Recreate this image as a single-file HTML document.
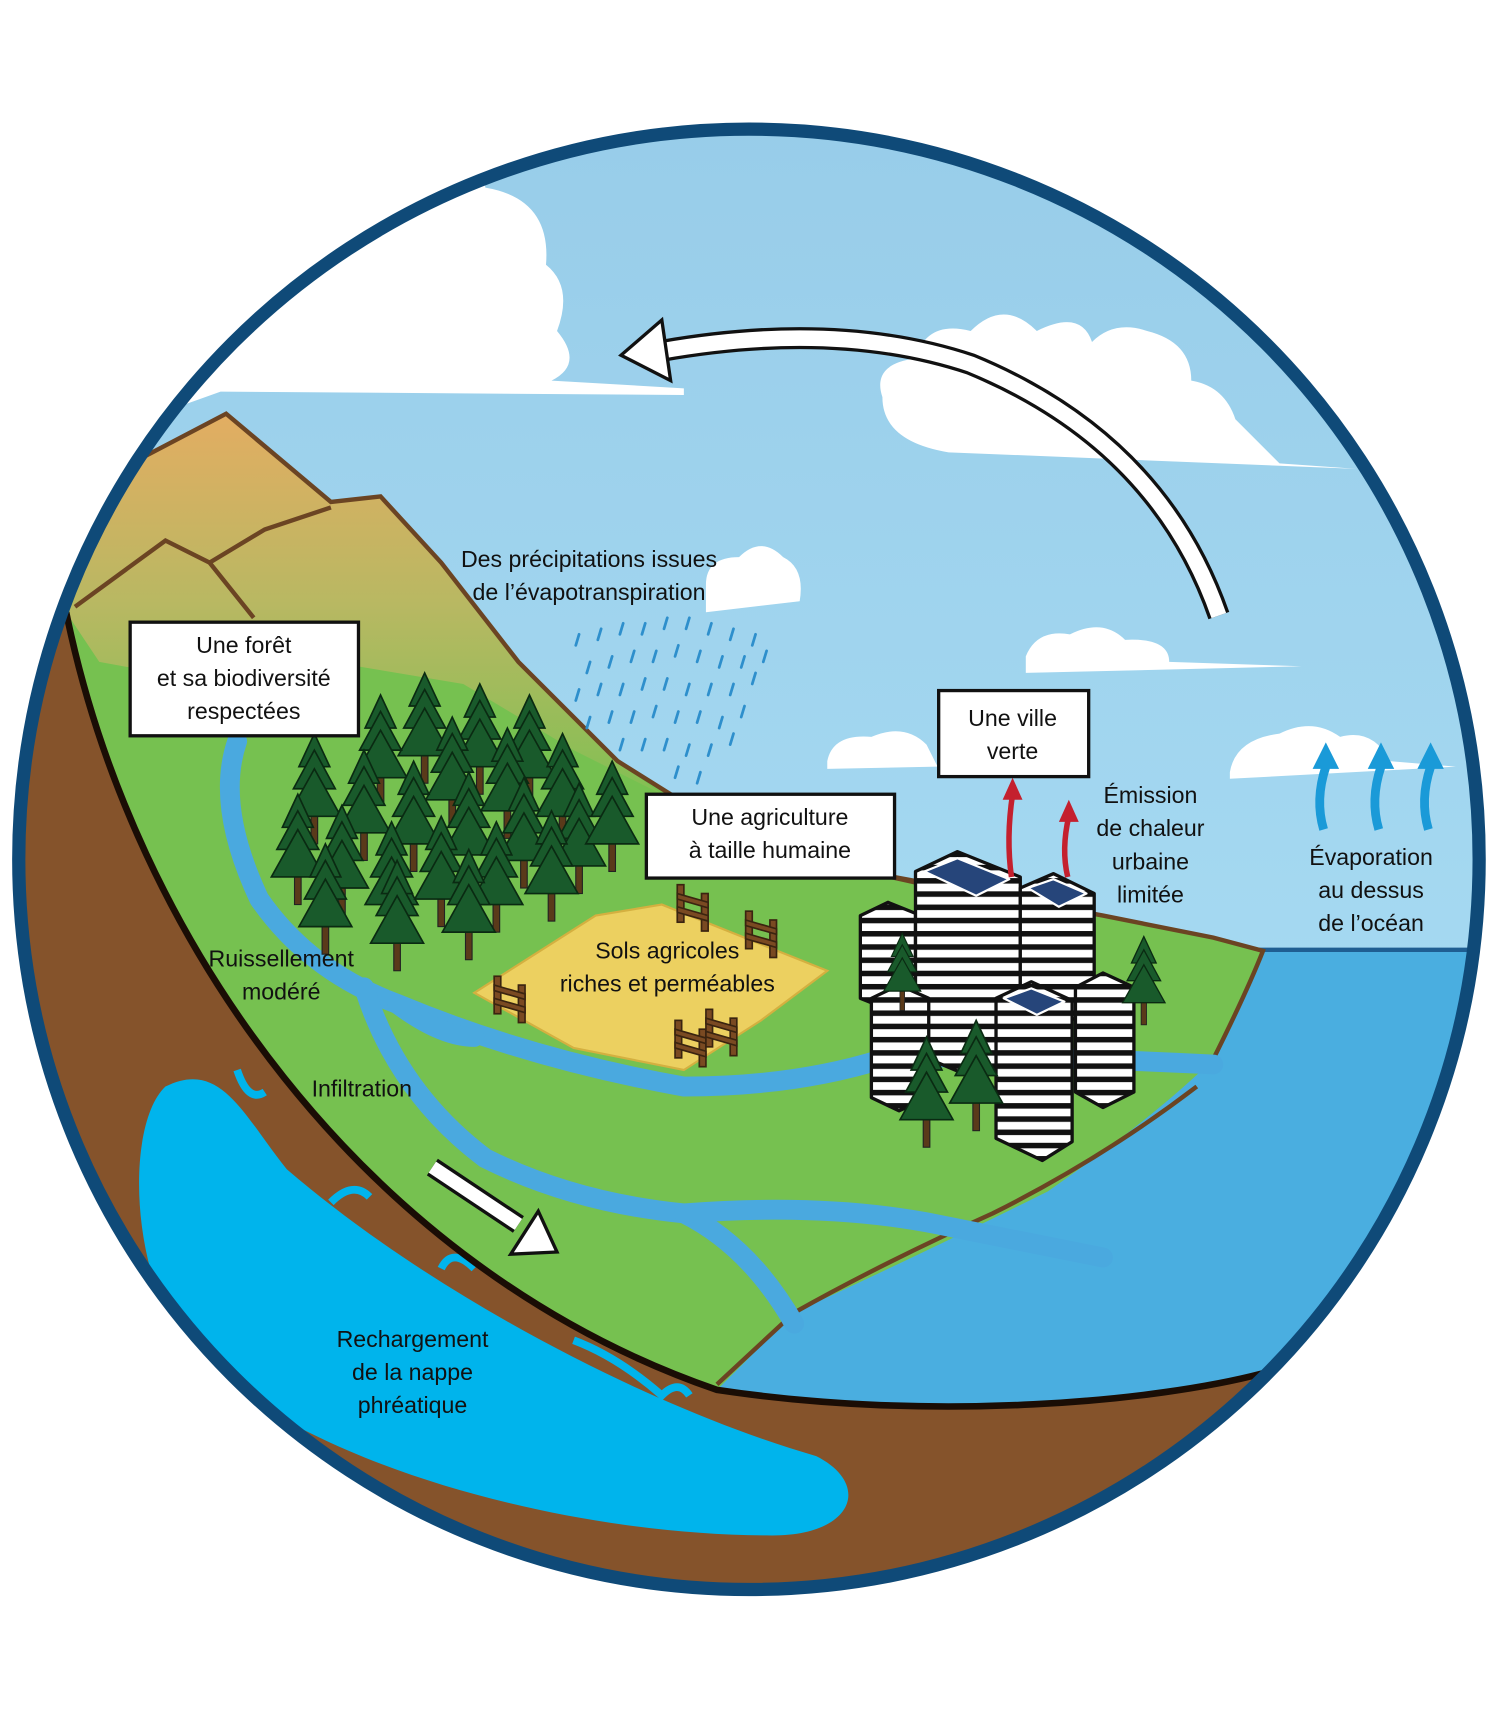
<!DOCTYPE html>
<html><head><meta charset="utf-8"><style>
html,body{margin:0;padding:0;background:#fff;}
svg{display:block;}
text{font-family:"Liberation Sans",sans-serif;font-size:21px;fill:#111;text-anchor:middle;}
</style></head><body>
<svg width="1499" height="1733" viewBox="0 0 1359 1571" xmlns="http://www.w3.org/2000/svg">
<defs>
<clipPath id="c"><circle cx="679" cy="779" r="662"/></clipPath>
<linearGradient id="sky" x1="0" y1="0" x2="0" y2="1">
<stop offset="0" stop-color="#96cbe8"/><stop offset="0.6" stop-color="#a6daf2"/><stop offset="1" stop-color="#c6e7f6"/></linearGradient>
<linearGradient id="mt" x1="0" y1="375" x2="0" y2="760" gradientUnits="userSpaceOnUse">
<stop offset="0" stop-color="#e3ad62"/><stop offset="0.45" stop-color="#b8b862"/><stop offset="1" stop-color="#76c150"/></linearGradient>
<pattern id="win" width="10" height="12" patternUnits="userSpaceOnUse"><rect width="10" height="12" fill="#fff"/><rect y="4" width="10" height="5" fill="#111"/></pattern>
<g id="tree">
<rect x="-3" y="0" width="6" height="30" fill="#5a3a1a" stroke="#222" stroke-width="1"/>
<polygon points="0,-70 -14,-40 14,-40" fill="#195a2b" stroke="#0a2a12" stroke-width="1.5"/>
<polygon points="0,-55 -19,-20 19,-20" fill="#195a2b" stroke="#0a2a12" stroke-width="1.5"/>
<polygon points="0,-38 -24,5 24,5" fill="#195a2b" stroke="#0a2a12" stroke-width="1.5"/>
</g>
<g id="fence" stroke="#3a2410" stroke-width="1.5" fill="#7a4a22">
<rect x="0" y="0" width="6" height="34"/><rect x="22" y="8" width="6" height="34"/>
<polygon points="0,8 28,16 28,21 0,13"/><polygon points="0,20 28,28 28,33 0,25"/>
</g>
</defs>
<g clip-path="url(#c)">
<rect x="0" y="0" width="1359" height="1571" fill="url(#sky)"/>
<path d="M0,0 L420,0 L440,170 Q500,180 495,240 Q520,260 505,300 Q530,330 500,345 L620,352 L620,358 L200,355 L130,380 L0,450 Z" fill="#fff"/>
<g fill="#fff">
<path d="M800,360 Q790,330 830,325 Q840,290 880,300 Q910,270 940,300 Q980,280 990,310 Q1010,290 1040,300 Q1080,310 1080,345 Q1110,350 1120,380 L1160,420 L1230,425 L860,410 Q800,400 800,360Z"/>
<path d="M640,530 Q640,505 670,505 Q690,485 710,505 Q730,515 725,545 L640,555Z"/>
<path d="M930,595 Q940,570 970,575 Q1000,560 1020,580 Q1060,578 1060,600 L1180,604 L930,610Z"/>
<path d="M750,690 Q755,665 790,668 Q820,655 840,675 L850,695 L750,697Z"/>
<path d="M1115,700 Q1120,670 1160,665 Q1190,650 1215,668 Q1245,660 1260,690 L1320,695 L1115,706Z"/>
</g>
<rect x="0" y="860" width="1359" height="711" fill="#4aaee0"/>
<line x1="1140" y1="861" x2="1359" y2="861" stroke="#1f5e92" stroke-width="4"/>
<path d="M60,555 C120,850 330,1150 650,1260 C850,1290 1050,1270 1145,1245 L1359,1245 L1359,1571 L0,1571 L0,555 Z" fill="#85532b"/>
<path d="M150,985 C200,960 220,1010 260,1060 C400,1180 600,1280 740,1320 C790,1345 775,1392 700,1392 C500,1392 250,1320 160,1210 C115,1130 118,1015 150,985 Z" fill="#00b4ec"/>
<g fill="none" stroke="#00b4ec" stroke-width="7">
<path d="M215,970 Q225,1000 240,990"/><path d="M300,1090 Q320,1070 335,1085"/><path d="M400,1150 Q410,1130 430,1150"/><path d="M520,1215 Q560,1230 600,1265 Q615,1250 625,1265"/>
</g>
<path d="M60,555 L100,430 L205,375 L300,455 L345,450 L400,510 L470,600 L560,690 L640,740 L740,780 L830,800 L1000,830 L1100,850 L1145,862 Q1130,900 1100,960 Q1050,1010 950,1080 Q850,1130 720,1190 L650,1260 C330,1150 120,850 60,555 Z" fill="#76c150"/>
<path d="M60,555 L100,430 L205,375 L300,455 L345,450 L400,510 L470,600 L560,690 L600,720 L520,680 L420,620 L300,600 L200,620 L90,600 Z" fill="url(#mt)"/>
<path d="M60,555 L100,430 L205,375 L300,455 L345,450 L400,510 L470,600 L560,690 L640,740 L740,780 L830,800" fill="none" stroke="#6b4423" stroke-width="4"/>
<path d="M68,550 L150,490 L190,510 L240,480 L300,460 M190,510 L230,560" fill="none" stroke="#6b4423" stroke-width="4"/>
<path d="M810,795 L1000,830 L1100,850 L1145,862 Q1130,900 1100,960" fill="none" stroke="#6b4423" stroke-width="4"/>
<path d="M1085,985 Q1000,1050 900,1100 Q800,1145 720,1190 L650,1255" fill="none" stroke="#6b4423" stroke-width="4"/>
<g fill="none" stroke="#4aa9df" stroke-width="18" stroke-linecap="round">
<path d="M215,672 Q195,730 235,815 Q280,880 360,910 Q480,960 620,985 Q720,985 800,960 Q900,955 1100,965"/>
<path d="M330,895 Q360,990 440,1050 Q520,1090 620,1100 Q680,1130 720,1200"/>
<path d="M620,1100 Q750,1090 850,1110 L1000,1140"/>
<path d="M360,910 Q400,940 430,940"/>
</g>
<path d="M60,555 C120,850 330,1150 650,1260 C850,1290 1050,1270 1145,1245 L1360,1200" fill="none" stroke="#1a0d05" stroke-width="6"/>
<g stroke="#2e8fcc" stroke-width="2.5" stroke-linecap="round">
<path d="M525,575l-3,10M545,570l-3,10M565,565l-3,10M585,565l-3,10M605,560l-3,10M625,560l-3,10M645,565l-3,10M665,570l-3,10M685,575l-3,10
M535,600l-3,10M555,595l-3,10M575,590l-3,10M595,590l-3,10M615,585l-3,10M635,590l-3,10M655,595l-3,10M675,595l-3,10M695,590l-3,10
M525,625l-3,10M545,620l-3,10M565,620l-3,10M585,615l-3,10M605,615l-3,10M625,620l-3,10M645,620l-3,10M665,620l-3,10M685,610l-3,10
M535,650l-3,10M555,645l-3,10M575,645l-3,10M595,640l-3,10M615,645l-3,10M635,645l-3,10M655,650l-3,10M675,640l-3,10
M565,670l-3,10M585,670l-3,10M605,670l-3,10M625,675l-3,10M645,675l-3,10M665,665l-3,10M615,695l-3,10M635,700l-3,10"/>
</g>
<path d="M430,900 L540,830 L600,820 L750,880 L690,925 L620,970 L520,950 Z" fill="#ecd060" stroke="#d4b040" stroke-width="2"/>
<use href="#fence" x="614" y="802"/><use href="#fence" x="676" y="826"/><use href="#fence" x="448" y="885"/><use href="#fence" x="612" y="925"/><use href="#fence" x="640" y="915"/>
<g>
<use href="#tree" x="385" y="680"/><use href="#tree" x="435" y="690"/><use href="#tree" x="480" y="700"/>
<use href="#tree" x="345" y="700"/><use href="#tree" x="410" y="720"/><use href="#tree" x="460" y="730"/><use href="#tree" x="510" y="735"/>
<use href="#tree" x="285" y="735"/><use href="#tree" x="330" y="750"/><use href="#tree" x="375" y="760"/><use href="#tree" x="425" y="770"/><use href="#tree" x="475" y="775"/><use href="#tree" x="525" y="780"/><use href="#tree" x="555" y="760"/>
<use href="#tree" x="270" y="790"/><use href="#tree" x="310" y="800"/><use href="#tree" x="355" y="815"/><use href="#tree" x="400" y="810"/><use href="#tree" x="450" y="815"/><use href="#tree" x="500" y="805"/>
<use href="#tree" x="295" y="835"/><use href="#tree" x="360" y="850"/><use href="#tree" x="425" y="840"/>
</g>
<g stroke="#111" stroke-width="3" stroke-linejoin="round">
<polygon points="780,830 805,818 830,828 830,905 805,915 780,905" fill="url(#win)"/>
<polygon points="830,790 868,772 925,795 925,960 885,978 830,955" fill="url(#win)"/>
<polygon points="838,790 868,778 915,797 885,812" fill="#26457a" stroke="#fff" stroke-width="2"/>
<polygon points="925,805 955,792 992,810 992,915 960,930 925,915" fill="url(#win)"/>
<polygon points="932,805 955,797 985,810 960,822" fill="#26457a" stroke="#fff" stroke-width="2"/>
<polygon points="790,905 815,893 842,905 842,995 815,1007 790,995" fill="url(#win)"/>
<polygon points="975,895 1000,882 1028,895 1028,990 1000,1004 975,990" fill="url(#win)"/>
<polygon points="903,905 935,890 972,907 972,1035 945,1052 903,1032" fill="url(#win)"/>
<polygon points="910,905 935,896 965,908 940,920" fill="#26457a" stroke="#fff" stroke-width="2"/>
</g>
<use href="#tree" x="1037" y="905" transform="translate(1037,905) scale(0.8) translate(-1037,-905)"/>
<use href="#tree" x="840" y="1010"/><use href="#tree" x="885" y="995"/><use href="#tree" x="818" y="895" transform="translate(818,895) scale(0.7) translate(-818,-895)"/>
<g fill="none" stroke="#c4202e" stroke-width="5"><path d="M917,795 Q912,760 918,720"/><path d="M968,795 Q962,770 969,740"/></g>
<polygon points="909,725 918,705 927,725" fill="#c4202e"/><polygon points="960,745 969,725 978,745" fill="#c4202e"/>
<g fill="none" stroke="#1a9ad8" stroke-width="8"><path d="M1200,752 Q1192,725 1202,695"/><path d="M1250,752 Q1242,725 1252,695"/><path d="M1295,752 Q1287,725 1297,695"/></g>
<polygon points="1190,697 1202,673 1214,697" fill="#1a9ad8"/><polygon points="1240,697 1252,673 1264,697" fill="#1a9ad8"/><polygon points="1285,697 1297,673 1309,697" fill="#1a9ad8"/>
<path d="M1105,558 Q1050,400 880,330 Q760,290 600,318" fill="none" stroke="#111" stroke-width="20"/>
<path d="M1105,558 Q1050,400 880,330 Q760,290 600,318" fill="none" stroke="#fff" stroke-width="14"/>
<polygon points="563,322 600,290 608,345" fill="#fff" stroke="#111" stroke-width="3"/>
<path d="M392,1058 L470,1110" stroke="#111" stroke-width="18"/><path d="M392,1058 L470,1110" stroke="#fff" stroke-width="12"/>
<polygon points="505,1135 463,1137 488,1098" fill="#fff" stroke="#111" stroke-width="3"/>
</g>
<circle cx="679" cy="779" r="662" fill="none" stroke="#0f4a78" stroke-width="12"/>
<g fill="#fff" stroke="#111" stroke-width="3">
<rect x="118" y="564" width="207" height="103"/><rect x="586" y="720" width="225" height="76"/><rect x="851" y="626" width="136" height="78"/>
</g>
<text x="221" y="592">Une forêt</text><text x="221" y="622">et sa biodiversité</text><text x="221" y="652">respectées</text>
<text x="698" y="748">Une agriculture</text><text x="698" y="778">à taille humaine</text>
<text x="918" y="658">Une ville</text><text x="918" y="688">verte</text>
<text x="534" y="514">Des précipitations issues</text><text x="534" y="544">de l’évapotranspiration</text>
<text x="1043" y="728">Émission</text><text x="1043" y="758">de chaleur</text><text x="1043" y="788">urbaine</text><text x="1043" y="818">limitée</text>
<text x="1243" y="784">Évaporation</text><text x="1243" y="814">au dessus</text><text x="1243" y="844">de l’océan</text>
<text x="255" y="876">Ruissellement</text><text x="255" y="906">modéré</text>
<text x="328" y="994">Infiltration</text>
<text x="605" y="869">Sols agricoles</text><text x="605" y="899">riches et perméables</text>
<text x="374" y="1221">Rechargement</text><text x="374" y="1251">de la nappe</text><text x="374" y="1281">phréatique</text>
</svg>
</body></html>
